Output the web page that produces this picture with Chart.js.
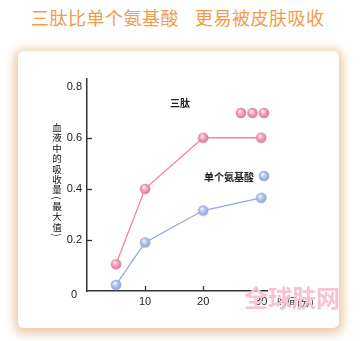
<!DOCTYPE html>
<html>
<head>
<meta charset="utf-8">
<script src="https://cdn.jsdelivr.net/npm/chart.js@4"></script>
<style>
  html, body { margin: 0; padding: 0; background: #fff; }
  body { width: 360px; height: 341px; position: relative; overflow: hidden;
         font-family: "Noto Sans CJK SC", "Liberation Sans", sans-serif; }
  .title { position: absolute; top: 5px; font-size: 18px; color: #f29b48; letter-spacing: 0.5px; white-space: nowrap; line-height: 24px; }
  .card { position: absolute; left: 18px; top: 51px; width: 321px; height: 277px; background: #fff;
          border-radius: 6px; box-shadow: 0 2px 10px 4px rgba(228, 186, 140, 0.75); }
  #wrap { position: absolute; left: 0; top: 0; width: 360px; height: 341px; }
  .lbl { position: absolute; white-space: nowrap; color: #222; }
  .ytitle { position: absolute; left: 51px; top: 122px; width: 12px; font-size: 9.5px; color: #111; text-align: center; }
  .ytitle span { display: block; height: 10.4px; line-height: 10.4px; }
  .ytitle span.p { transform: rotate(90deg); height: 6px; line-height: 6px; font-size: 10px; }
  .mark { position: absolute; left: 244px; top: 279px; font-size: 24px; font-weight: bold;
          color: rgb(247, 194, 212); white-space: nowrap; }
</style>
</head>
<body>
<div class="title" style="left:31px">三肽比单个氨基酸</div>
<div class="title" style="left:195px">更易被皮肤吸收</div>
<div class="card"></div>
<div id="wrap"><canvas id="chart" width="360" height="341"></canvas></div>
<div class="ytitle"><span>血</span><span>液</span><span>中</span><span>的</span><span>吸</span><span>收</span><span>量</span><span class="p">(</span><span>最</span><span>大</span><span>值</span><span class="p">)</span></div>
<div class="lbl" style="left:71px;top:288px;font:11px 'Liberation Sans',Arial,sans-serif;">0</div>
<div class="lbl" style="left:170px;top:95px;font-size:10px;font-weight:bold;">三肽</div>
<div class="lbl" style="left:204px;top:169px;font-size:10px;font-weight:bold;">单个氨基酸</div>
<div class="lbl" style="left:277px;top:294px;font-size:10px;">时间(分)</div>
<div class="mark">全球肤网</div>
<script>
const times = [5, 10, 20, 30];
const tripeptide = [0.105, 0.40, 0.60, 0.60];
const aminoAcid = [0.024, 0.19, 0.315, 0.365];
const xTicks = [10, 20, 30];
const yTicks = [0, 0.2, 0.4, 0.6, 0.8];

function makeBall(light, mid, dark) {
    const c = document.createElement('canvas');
    c.width = 12; c.height = 12;
    const g = c.getContext('2d');
    const grad = g.createRadialGradient(4.6, 4.2, 0.5, 6, 6, 5.6);
    grad.addColorStop(0, light);
    grad.addColorStop(0.5, mid);
    grad.addColorStop(1, dark);
    g.fillStyle = grad;
    g.beginPath();
    g.arc(6, 6, 5.3, 0, Math.PI * 2);
    g.fill();
    return c;
}

const pinkBall = makeBall('#fde6ee', '#f19bb8', '#e0729a');
const blueBall = makeBall('#f0f3fd', '#adbdea', '#8a9fd8');

const extras = {
    id: 'extras',
    afterDraw(chart) {
        const ctx = chart.ctx;
        const xs = chart.scales.x, ys = chart.scales.y;
        ctx.save();
        ctx.strokeStyle = '#333';
        ctx.lineWidth = 1.3;
        [0.2, 0.4, 0.6].forEach(v => {
            const y = Math.round(ys.getPixelForValue(v)) + 0.5;
            ctx.beginPath(); ctx.moveTo(xs.left, y); ctx.lineTo(xs.left + 5, y); ctx.stroke();
        });
        [10, 20].forEach(v => {
            const x = Math.round(xs.getPixelForValue(v)) + 0.5;
            ctx.beginPath(); ctx.moveTo(x, ys.bottom); ctx.lineTo(x, ys.bottom - 5); ctx.stroke();
        });
        // legend balls
        [241, 252.5, 264].forEach(x => ctx.drawImage(pinkBall, x - 6, 107));
        ctx.drawImage(blueBall, 264 - 6, 170);
        ctx.restore();
    }
};

new Chart(document.getElementById('chart'), {
    type: 'line',
    data: {
        datasets: [
            {
                data: times.map((t, i) => ({ x: t, y: tripeptide[i] })),
                borderColor: '#ef85a3',
                borderWidth: 1.3,
                pointStyle: pinkBall,
                clip: false
            },
            {
                data: times.map((t, i) => ({ x: t, y: aminoAcid[i] })),
                borderColor: '#93a7de',
                borderWidth: 1.3,
                pointStyle: blueBall,
                clip: false
            }
        ]
    },
    options: {
        responsive: false,
        animation: false,
        events: [],
        layout: { padding: { left: 0, right: 93, top: 79, bottom: 30 } },
        plugins: { legend: { display: false }, tooltip: { enabled: false } },
        scales: {
            x: {
                type: 'linear',
                min: 0,
                max: 31,
                afterBuildTicks: s => { s.ticks = xTicks.map(v => ({ value: v })); },
                afterFit: s => { s.height = 20; },
                grid: { display: false, drawTicks: false, tickLength: 0 },
                border: { color: '#333', width: 1.5 },
                ticks: { color: '#222', padding: 4, font: { family: 'Liberation Sans', size: 11 } }
            },
            y: {
                min: 0,
                max: 0.83,
                afterBuildTicks: s => { s.ticks = yTicks.map(v => ({ value: v })); },
                afterFit: s => { s.width = 87; },
                grid: { display: false, drawTicks: false, tickLength: 0 },
                border: { color: '#333', width: 1.5 },
                ticks: {
                    color: '#222',
                    padding: 5,
                    font: { family: 'Liberation Sans', size: 11 },
                    callback: v => v === 0 ? '' : v.toFixed(1)
                }
            }
        }
    },
    plugins: [extras]
});
</script>
</body>
</html>
